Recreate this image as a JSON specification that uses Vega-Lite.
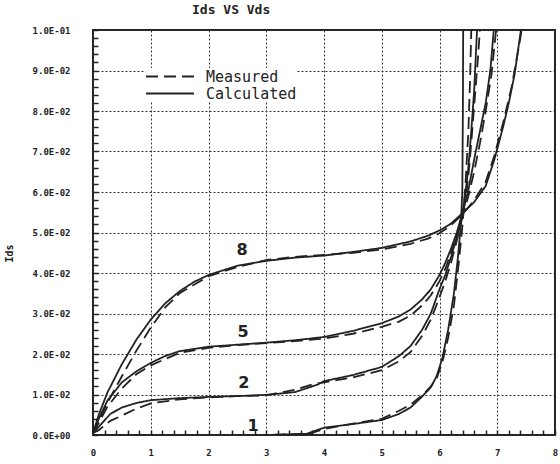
{
  "$schema": "https://vega.github.io/schema/vega-lite/v6.json",
  "width": 462,
  "height": 405,
  "autosize": {"type": "none"},
  "padding": {"left": 93, "top": 30, "right": 5, "bottom": 29},
  "background": "white",
  "config": {"view": {"stroke": "#222", "strokeWidth": 2}, "font": "DejaVu Sans Mono"},
  "title": {"text": "Ids VS Vds", "anchor": "start", "frame": "group", "dx": 99, "fontSize": 13, "font": "DejaVu Sans Mono", "fontWeight": "bold", "color": "#222", "offset": 9},
  "datasets": {
    "curves": [
      {"vg": "8", "type": "Calculated", "vds": 0, "ids": 0.0005},
      {"vg": "8", "type": "Calculated", "vds": 0.1, "ids": 0.005},
      {"vg": "8", "type": "Calculated", "vds": 0.25, "ids": 0.0105},
      {"vg": "8", "type": "Calculated", "vds": 0.5, "ids": 0.0175},
      {"vg": "8", "type": "Calculated", "vds": 0.75, "ids": 0.0235},
      {"vg": "8", "type": "Calculated", "vds": 1.0, "ids": 0.0285},
      {"vg": "8", "type": "Calculated", "vds": 1.25, "ids": 0.0325},
      {"vg": "8", "type": "Calculated", "vds": 1.5, "ids": 0.0355},
      {"vg": "8", "type": "Calculated", "vds": 1.75, "ids": 0.0378},
      {"vg": "8", "type": "Calculated", "vds": 2.0, "ids": 0.0395},
      {"vg": "8", "type": "Calculated", "vds": 2.5, "ids": 0.0418},
      {"vg": "8", "type": "Calculated", "vds": 3.0, "ids": 0.043},
      {"vg": "8", "type": "Calculated", "vds": 3.5, "ids": 0.0438},
      {"vg": "8", "type": "Calculated", "vds": 4.0, "ids": 0.0443},
      {"vg": "8", "type": "Calculated", "vds": 4.5, "ids": 0.0452},
      {"vg": "8", "type": "Calculated", "vds": 5.0, "ids": 0.0462},
      {"vg": "8", "type": "Calculated", "vds": 5.5, "ids": 0.0478},
      {"vg": "8", "type": "Calculated", "vds": 5.8, "ids": 0.0492},
      {"vg": "8", "type": "Calculated", "vds": 6.0, "ids": 0.0505},
      {"vg": "8", "type": "Calculated", "vds": 6.2, "ids": 0.0522},
      {"vg": "8", "type": "Calculated", "vds": 6.4, "ids": 0.0548},
      {"vg": "8", "type": "Calculated", "vds": 6.6, "ids": 0.0575},
      {"vg": "8", "type": "Calculated", "vds": 6.8, "ids": 0.0615},
      {"vg": "8", "type": "Calculated", "vds": 6.95, "ids": 0.068},
      {"vg": "8", "type": "Calculated", "vds": 7.1, "ids": 0.076},
      {"vg": "8", "type": "Calculated", "vds": 7.2, "ids": 0.082},
      {"vg": "8", "type": "Calculated", "vds": 7.3, "ids": 0.089},
      {"vg": "8", "type": "Calculated", "vds": 7.41, "ids": 0.1},
      {"vg": "8", "type": "Measured", "vds": 0, "ids": 0.0005},
      {"vg": "8", "type": "Measured", "vds": 0.1, "ids": 0.0035},
      {"vg": "8", "type": "Measured", "vds": 0.25, "ids": 0.008},
      {"vg": "8", "type": "Measured", "vds": 0.5, "ids": 0.0145},
      {"vg": "8", "type": "Measured", "vds": 0.75, "ids": 0.0208},
      {"vg": "8", "type": "Measured", "vds": 1.0, "ids": 0.0265},
      {"vg": "8", "type": "Measured", "vds": 1.25, "ids": 0.0315},
      {"vg": "8", "type": "Measured", "vds": 1.5, "ids": 0.035},
      {"vg": "8", "type": "Measured", "vds": 2.0, "ids": 0.0392},
      {"vg": "8", "type": "Measured", "vds": 2.5, "ids": 0.0415},
      {"vg": "8", "type": "Measured", "vds": 3.0, "ids": 0.0432},
      {"vg": "8", "type": "Measured", "vds": 3.5, "ids": 0.044},
      {"vg": "8", "type": "Measured", "vds": 4.0, "ids": 0.0445},
      {"vg": "8", "type": "Measured", "vds": 4.5, "ids": 0.045},
      {"vg": "8", "type": "Measured", "vds": 5.0, "ids": 0.0458},
      {"vg": "8", "type": "Measured", "vds": 5.5, "ids": 0.0472},
      {"vg": "8", "type": "Measured", "vds": 5.8, "ids": 0.0485},
      {"vg": "8", "type": "Measured", "vds": 6.0, "ids": 0.0498},
      {"vg": "8", "type": "Measured", "vds": 6.2, "ids": 0.0518},
      {"vg": "8", "type": "Measured", "vds": 6.4, "ids": 0.0545},
      {"vg": "8", "type": "Measured", "vds": 6.6, "ids": 0.058},
      {"vg": "8", "type": "Measured", "vds": 6.8, "ids": 0.0625},
      {"vg": "8", "type": "Measured", "vds": 6.95, "ids": 0.069},
      {"vg": "8", "type": "Measured", "vds": 7.1, "ids": 0.077},
      {"vg": "8", "type": "Measured", "vds": 7.25, "ids": 0.086},
      {"vg": "8", "type": "Measured", "vds": 7.4, "ids": 0.098},
      {"vg": "8", "type": "Measured", "vds": 7.42, "ids": 0.1},
      {"vg": "5", "type": "Calculated", "vds": 0, "ids": 0.0005},
      {"vg": "5", "type": "Calculated", "vds": 0.1, "ids": 0.004},
      {"vg": "5", "type": "Calculated", "vds": 0.25, "ids": 0.0085},
      {"vg": "5", "type": "Calculated", "vds": 0.5, "ids": 0.013},
      {"vg": "5", "type": "Calculated", "vds": 0.75, "ids": 0.0157},
      {"vg": "5", "type": "Calculated", "vds": 1.0, "ids": 0.0178},
      {"vg": "5", "type": "Calculated", "vds": 1.25, "ids": 0.0195},
      {"vg": "5", "type": "Calculated", "vds": 1.5, "ids": 0.0207},
      {"vg": "5", "type": "Calculated", "vds": 2.0, "ids": 0.0218},
      {"vg": "5", "type": "Calculated", "vds": 2.5, "ids": 0.0223},
      {"vg": "5", "type": "Calculated", "vds": 3.0, "ids": 0.0228},
      {"vg": "5", "type": "Calculated", "vds": 3.5, "ids": 0.0234},
      {"vg": "5", "type": "Calculated", "vds": 4.0, "ids": 0.0242},
      {"vg": "5", "type": "Calculated", "vds": 4.5, "ids": 0.0257},
      {"vg": "5", "type": "Calculated", "vds": 5.0, "ids": 0.0276},
      {"vg": "5", "type": "Calculated", "vds": 5.3, "ids": 0.0293},
      {"vg": "5", "type": "Calculated", "vds": 5.5, "ids": 0.031},
      {"vg": "5", "type": "Calculated", "vds": 5.7, "ids": 0.0335},
      {"vg": "5", "type": "Calculated", "vds": 5.85, "ids": 0.036},
      {"vg": "5", "type": "Calculated", "vds": 6.0, "ids": 0.0395},
      {"vg": "5", "type": "Calculated", "vds": 6.1, "ids": 0.0425},
      {"vg": "5", "type": "Calculated", "vds": 6.2, "ids": 0.046},
      {"vg": "5", "type": "Calculated", "vds": 6.3, "ids": 0.05},
      {"vg": "5", "type": "Calculated", "vds": 6.4, "ids": 0.055},
      {"vg": "5", "type": "Calculated", "vds": 6.5, "ids": 0.0605},
      {"vg": "5", "type": "Calculated", "vds": 6.6, "ids": 0.068},
      {"vg": "5", "type": "Calculated", "vds": 6.7, "ids": 0.075},
      {"vg": "5", "type": "Calculated", "vds": 6.8, "ids": 0.082},
      {"vg": "5", "type": "Calculated", "vds": 6.88, "ids": 0.09},
      {"vg": "5", "type": "Calculated", "vds": 6.94, "ids": 0.1},
      {"vg": "5", "type": "Measured", "vds": 0, "ids": 0.0005},
      {"vg": "5", "type": "Measured", "vds": 0.1, "ids": 0.003},
      {"vg": "5", "type": "Measured", "vds": 0.25, "ids": 0.007},
      {"vg": "5", "type": "Measured", "vds": 0.5, "ids": 0.0115},
      {"vg": "5", "type": "Measured", "vds": 0.75, "ids": 0.015},
      {"vg": "5", "type": "Measured", "vds": 1.0, "ids": 0.0172},
      {"vg": "5", "type": "Measured", "vds": 1.5, "ids": 0.0203},
      {"vg": "5", "type": "Measured", "vds": 2.0, "ids": 0.0215},
      {"vg": "5", "type": "Measured", "vds": 2.5, "ids": 0.0222},
      {"vg": "5", "type": "Measured", "vds": 3.0, "ids": 0.0227},
      {"vg": "5", "type": "Measured", "vds": 3.5, "ids": 0.0232},
      {"vg": "5", "type": "Measured", "vds": 4.0, "ids": 0.0238},
      {"vg": "5", "type": "Measured", "vds": 4.5, "ids": 0.025},
      {"vg": "5", "type": "Measured", "vds": 5.0, "ids": 0.0267},
      {"vg": "5", "type": "Measured", "vds": 5.3, "ids": 0.028},
      {"vg": "5", "type": "Measured", "vds": 5.5, "ids": 0.0295},
      {"vg": "5", "type": "Measured", "vds": 5.7, "ids": 0.032},
      {"vg": "5", "type": "Measured", "vds": 5.85, "ids": 0.0345},
      {"vg": "5", "type": "Measured", "vds": 6.0, "ids": 0.038},
      {"vg": "5", "type": "Measured", "vds": 6.1, "ids": 0.041},
      {"vg": "5", "type": "Measured", "vds": 6.2, "ids": 0.045},
      {"vg": "5", "type": "Measured", "vds": 6.3, "ids": 0.049},
      {"vg": "5", "type": "Measured", "vds": 6.4, "ids": 0.054},
      {"vg": "5", "type": "Measured", "vds": 6.5, "ids": 0.059},
      {"vg": "5", "type": "Measured", "vds": 6.6, "ids": 0.065},
      {"vg": "5", "type": "Measured", "vds": 6.7, "ids": 0.072},
      {"vg": "5", "type": "Measured", "vds": 6.8, "ids": 0.08},
      {"vg": "5", "type": "Measured", "vds": 6.9, "ids": 0.089},
      {"vg": "5", "type": "Measured", "vds": 6.98, "ids": 0.1},
      {"vg": "2", "type": "Calculated", "vds": 0, "ids": 0.0005},
      {"vg": "2", "type": "Calculated", "vds": 0.1, "ids": 0.002},
      {"vg": "2", "type": "Calculated", "vds": 0.3, "ids": 0.0052},
      {"vg": "2", "type": "Calculated", "vds": 0.5, "ids": 0.0068},
      {"vg": "2", "type": "Calculated", "vds": 0.75, "ids": 0.0079},
      {"vg": "2", "type": "Calculated", "vds": 1.0, "ids": 0.0086},
      {"vg": "2", "type": "Calculated", "vds": 1.5, "ids": 0.0091},
      {"vg": "2", "type": "Calculated", "vds": 2.0, "ids": 0.0094},
      {"vg": "2", "type": "Calculated", "vds": 2.5, "ids": 0.0096},
      {"vg": "2", "type": "Calculated", "vds": 3.0, "ids": 0.0099},
      {"vg": "2", "type": "Calculated", "vds": 3.5, "ids": 0.0106},
      {"vg": "2", "type": "Calculated", "vds": 3.9, "ids": 0.0125},
      {"vg": "2", "type": "Calculated", "vds": 4.0, "ids": 0.0133},
      {"vg": "2", "type": "Calculated", "vds": 4.5, "ids": 0.0148},
      {"vg": "2", "type": "Calculated", "vds": 5.0, "ids": 0.0168},
      {"vg": "2", "type": "Calculated", "vds": 5.3, "ids": 0.0195},
      {"vg": "2", "type": "Calculated", "vds": 5.5, "ids": 0.022},
      {"vg": "2", "type": "Calculated", "vds": 5.7, "ids": 0.026},
      {"vg": "2", "type": "Calculated", "vds": 5.85, "ids": 0.03},
      {"vg": "2", "type": "Calculated", "vds": 6.0, "ids": 0.036},
      {"vg": "2", "type": "Calculated", "vds": 6.1, "ids": 0.0395},
      {"vg": "2", "type": "Calculated", "vds": 6.2, "ids": 0.044},
      {"vg": "2", "type": "Calculated", "vds": 6.3, "ids": 0.049},
      {"vg": "2", "type": "Calculated", "vds": 6.4, "ids": 0.055},
      {"vg": "2", "type": "Calculated", "vds": 6.45, "ids": 0.06},
      {"vg": "2", "type": "Calculated", "vds": 6.5, "ids": 0.066},
      {"vg": "2", "type": "Calculated", "vds": 6.55, "ids": 0.075},
      {"vg": "2", "type": "Calculated", "vds": 6.6, "ids": 0.085},
      {"vg": "2", "type": "Calculated", "vds": 6.65, "ids": 0.1},
      {"vg": "2", "type": "Measured", "vds": 0, "ids": 0.0005},
      {"vg": "2", "type": "Measured", "vds": 0.1, "ids": 0.0012},
      {"vg": "2", "type": "Measured", "vds": 0.3, "ids": 0.0035},
      {"vg": "2", "type": "Measured", "vds": 0.5, "ids": 0.0048},
      {"vg": "2", "type": "Measured", "vds": 0.75, "ids": 0.0065},
      {"vg": "2", "type": "Measured", "vds": 1.0, "ids": 0.0078},
      {"vg": "2", "type": "Measured", "vds": 1.5, "ids": 0.0088},
      {"vg": "2", "type": "Measured", "vds": 2.0, "ids": 0.0093},
      {"vg": "2", "type": "Measured", "vds": 2.5, "ids": 0.0096},
      {"vg": "2", "type": "Measured", "vds": 3.0, "ids": 0.0098},
      {"vg": "2", "type": "Measured", "vds": 3.5, "ids": 0.0112},
      {"vg": "2", "type": "Measured", "vds": 3.8, "ids": 0.0125},
      {"vg": "2", "type": "Measured", "vds": 4.0, "ids": 0.013},
      {"vg": "2", "type": "Measured", "vds": 4.5, "ids": 0.0142},
      {"vg": "2", "type": "Measured", "vds": 5.0, "ids": 0.016},
      {"vg": "2", "type": "Measured", "vds": 5.3, "ids": 0.0182},
      {"vg": "2", "type": "Measured", "vds": 5.5, "ids": 0.0205},
      {"vg": "2", "type": "Measured", "vds": 5.7, "ids": 0.0245},
      {"vg": "2", "type": "Measured", "vds": 5.85, "ids": 0.0285},
      {"vg": "2", "type": "Measured", "vds": 6.0, "ids": 0.034},
      {"vg": "2", "type": "Measured", "vds": 6.1, "ids": 0.038},
      {"vg": "2", "type": "Measured", "vds": 6.2, "ids": 0.0425},
      {"vg": "2", "type": "Measured", "vds": 6.3, "ids": 0.048},
      {"vg": "2", "type": "Measured", "vds": 6.4, "ids": 0.054},
      {"vg": "2", "type": "Measured", "vds": 6.47, "ids": 0.06},
      {"vg": "2", "type": "Measured", "vds": 6.52, "ids": 0.067},
      {"vg": "2", "type": "Measured", "vds": 6.56, "ids": 0.074},
      {"vg": "2", "type": "Measured", "vds": 6.61, "ids": 0.083},
      {"vg": "2", "type": "Measured", "vds": 6.66, "ids": 0.092},
      {"vg": "2", "type": "Measured", "vds": 6.7, "ids": 0.1},
      {"vg": "1", "type": "Calculated", "vds": 0, "ids": 0},
      {"vg": "1", "type": "Calculated", "vds": 3.0, "ids": 0},
      {"vg": "1", "type": "Calculated", "vds": 3.7, "ids": 0.0003},
      {"vg": "1", "type": "Calculated", "vds": 4.0, "ids": 0.0018},
      {"vg": "1", "type": "Calculated", "vds": 4.5, "ids": 0.0027},
      {"vg": "1", "type": "Calculated", "vds": 5.0, "ids": 0.0037},
      {"vg": "1", "type": "Calculated", "vds": 5.3, "ids": 0.0052},
      {"vg": "1", "type": "Calculated", "vds": 5.5, "ids": 0.0068},
      {"vg": "1", "type": "Calculated", "vds": 5.7, "ids": 0.0095},
      {"vg": "1", "type": "Calculated", "vds": 5.85, "ids": 0.0118},
      {"vg": "1", "type": "Calculated", "vds": 5.95, "ids": 0.0145},
      {"vg": "1", "type": "Calculated", "vds": 6.05, "ids": 0.019},
      {"vg": "1", "type": "Calculated", "vds": 6.15, "ids": 0.026},
      {"vg": "1", "type": "Calculated", "vds": 6.25, "ids": 0.035},
      {"vg": "1", "type": "Calculated", "vds": 6.32, "ids": 0.044},
      {"vg": "1", "type": "Calculated", "vds": 6.37, "ids": 0.052},
      {"vg": "1", "type": "Calculated", "vds": 6.395, "ids": 0.06},
      {"vg": "1", "type": "Calculated", "vds": 6.405, "ids": 0.08},
      {"vg": "1", "type": "Calculated", "vds": 6.41, "ids": 0.1},
      {"vg": "1", "type": "Measured", "vds": 0, "ids": 0},
      {"vg": "1", "type": "Measured", "vds": 3.0, "ids": 0},
      {"vg": "1", "type": "Measured", "vds": 3.75, "ids": 0.0003},
      {"vg": "1", "type": "Measured", "vds": 4.0, "ids": 0.0015},
      {"vg": "1", "type": "Measured", "vds": 4.5, "ids": 0.0028},
      {"vg": "1", "type": "Measured", "vds": 5.0, "ids": 0.004},
      {"vg": "1", "type": "Measured", "vds": 5.3, "ids": 0.006},
      {"vg": "1", "type": "Measured", "vds": 5.5, "ids": 0.0075},
      {"vg": "1", "type": "Measured", "vds": 5.7, "ids": 0.0098},
      {"vg": "1", "type": "Measured", "vds": 5.85, "ids": 0.012},
      {"vg": "1", "type": "Measured", "vds": 5.95, "ids": 0.014},
      {"vg": "1", "type": "Measured", "vds": 6.05, "ids": 0.018},
      {"vg": "1", "type": "Measured", "vds": 6.15, "ids": 0.024},
      {"vg": "1", "type": "Measured", "vds": 6.25, "ids": 0.032},
      {"vg": "1", "type": "Measured", "vds": 6.33, "ids": 0.042},
      {"vg": "1", "type": "Measured", "vds": 6.4, "ids": 0.052},
      {"vg": "1", "type": "Measured", "vds": 6.45, "ids": 0.062},
      {"vg": "1", "type": "Measured", "vds": 6.5, "ids": 0.075},
      {"vg": "1", "type": "Measured", "vds": 6.53, "ids": 0.088},
      {"vg": "1", "type": "Measured", "vds": 6.55, "ids": 0.1}
    ],
    "labels": [
      {"label": "8", "vds": 2.58, "ids": 0.0457},
      {"label": "5", "vds": 2.6, "ids": 0.0254},
      {"label": "2", "vds": 2.61, "ids": 0.0128},
      {"label": "1", "vds": 2.77, "ids": 0.0022}
    ]
  },
  "encoding": {
    "x": {"field": "vds", "type": "quantitative",
      "scale": {"domain": [0, 8], "nice": false, "zero": false},
      "axis": {"orient": "bottom", "offset": -5,
        "values": [0, 0.2, 0.4, 0.6, 0.8, 1, 1.2, 1.4, 1.6, 1.8, 2, 2.2, 2.4, 2.6, 2.8, 3, 3.2, 3.4, 3.6, 3.8, 4, 4.2, 4.4, 4.6, 4.8, 5, 5.2, 5.4, 5.6, 5.8, 6, 6.2, 6.4, 6.6, 6.8, 7, 7.2, 7.4, 7.6, 7.8, 8],
        "grid": true, "gridDash": [2, 2], "gridColor": "#333", "gridWidth": 1,
        "gridOpacity": {"condition": {"test": "datum.value % 1 === 0", "value": 1}, "value": 0},
        "ticks": true, "tickSize": 5, "tickColor": "#222", "tickWidth": 1.5, "domain": false,
        "labelExpr": "datum.value % 1 === 0 ? format(datum.value, 'd') : ''",
        "labelFont": "DejaVu Sans Mono", "labelFontWeight": "bold", "labelFontSize": 9, "labelColor": "#222", "labelPadding": 13, "labelFlush": false, "labelOverlap": false, "title": null}},
    "y": {"field": "ids", "type": "quantitative",
      "scale": {"domain": [0, 0.1], "nice": false, "zero": false},
      "axis": {"orient": "left", "offset": -5,
        "values": [0, 0.002, 0.004, 0.006, 0.008, 0.01, 0.012, 0.014, 0.016, 0.018, 0.02, 0.022, 0.024, 0.026, 0.028, 0.03, 0.032, 0.034, 0.036, 0.038, 0.04, 0.042, 0.044, 0.046, 0.048, 0.05, 0.052, 0.054, 0.056, 0.058, 0.06, 0.062, 0.064, 0.066, 0.068, 0.07, 0.072, 0.074, 0.076, 0.078, 0.08, 0.082, 0.084, 0.086, 0.088, 0.09, 0.092, 0.094, 0.096, 0.098, 0.1],
        "grid": true, "gridDash": [2, 2], "gridColor": "#333", "gridWidth": 1,
        "gridOpacity": {"condition": {"test": "abs(datum.value * 100 - round(datum.value * 100)) < 0.001", "value": 1}, "value": 0},
        "ticks": true, "tickSize": 5, "tickColor": "#222", "tickWidth": 1.5, "domain": false,
        "labelExpr": "abs(datum.value * 100 - round(datum.value * 100)) < 0.001 ? replace(replace(format(datum.value, '.1e'), 'e-', 'E-0'), 'e+', 'E+0') : ''",
        "labelFont": "DejaVu Sans Mono", "labelFontWeight": "bold", "labelFontSize": 9, "labelColor": "#222", "labelPadding": 23, "labelFlush": false, "labelOverlap": false,
        "title": "Ids", "titleFont": "DejaVu Sans Mono", "titleFontWeight": "bold", "titleFontSize": 10, "titleColor": "#222", "titleX": -84, "titleY": 223}}
  },
  "layer": [
    {
      "data": {"name": "curves"},
      "mark": {"type": "line", "stroke": "#222", "strokeWidth": 1.8, "clip": true},
      "encoding": {
        "detail": {"field": "vg", "type": "nominal"},
        "strokeDash": {"field": "type", "type": "nominal",
          "scale": {"domain": ["Measured", "Calculated"], "range": [[12, 6], [1, 0]]},
          "legend": {"orient": "none", "legendX": 52, "legendY": 38, "title": null, "symbolType": "stroke", "symbolSize": 2304, "symbolStrokeWidth": 2, "symbolStrokeColor": "#222", "clipHeight": 17, "labelFont": "DejaVu Sans Mono", "labelFontSize": 15, "labelColor": "#222", "labelOffset": 11, "rowPadding": 0, "padding": 0, "fillColor": "white"}}
      }
    },
    {
      "data": {"name": "labels"},
      "mark": {"type": "text", "font": "DejaVu Sans", "fontWeight": "bold", "fontSize": 16, "color": "#222"},
      "encoding": {
        "text": {"field": "label", "type": "nominal"}
      }
    }
  ]
}
